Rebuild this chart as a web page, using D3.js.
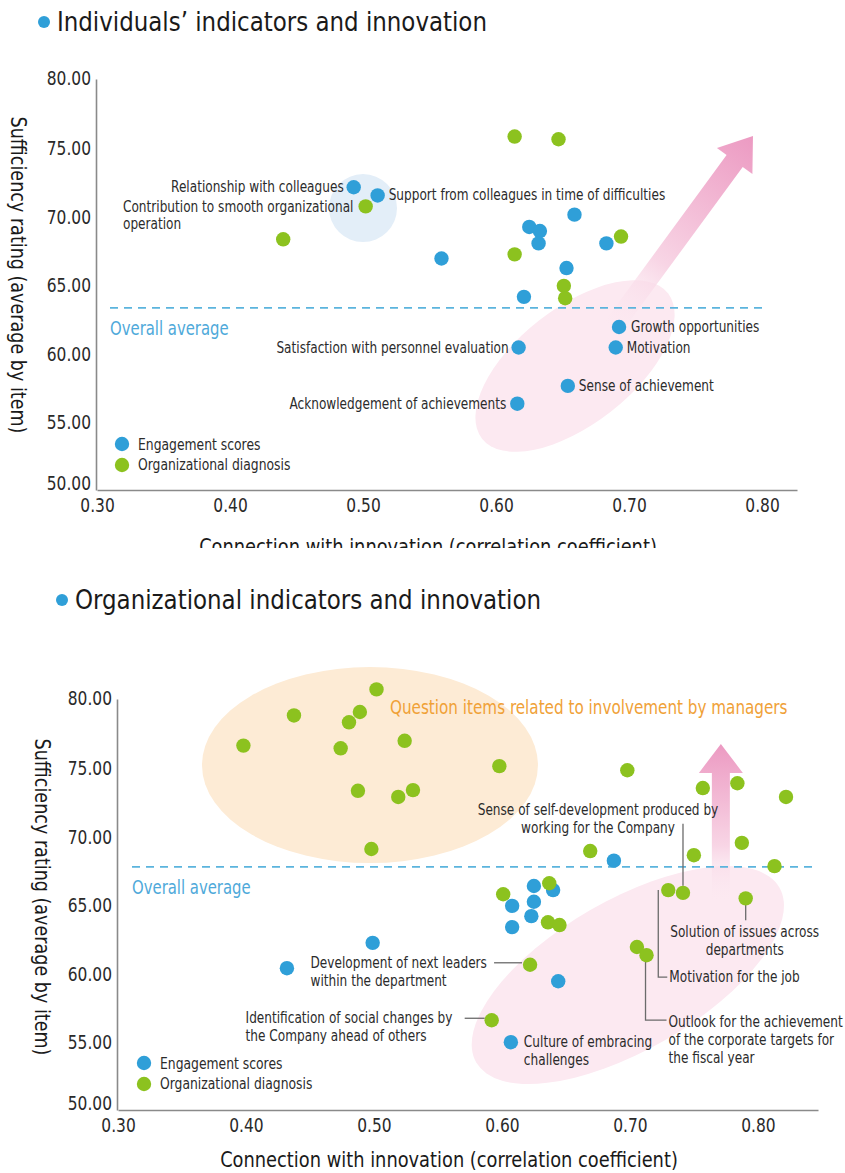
<!DOCTYPE html>
<html>
<head>
<meta charset="utf-8">
<script src="https://cdn.jsdelivr.net/npm/d3@7"></script>
<style>
  html, body { margin: 0; padding: 0; background: #fff; }
  svg { display: block; }
  text { font-family: 'Liberation Sans Narrow', 'DejaVu Sans Condensed', 'Arial Narrow', sans-serif; }
</style>
</head>
<body>
<svg id="chart" width="845" height="1173"></svg>
<script>
// ---------------- data ----------------
const xTicks = [0.3, 0.4, 0.5, 0.6, 0.7, 0.8];
const yTicks = [50, 55, 60, 65, 70, 75, 80];
const seriesNames = ["Engagement scores", "Organizational diagnosis"];

// Individuals' indicators: [correlation, sufficiency rating]
const indivEngagement = [
  [0.493, 72.1], [0.511, 71.5], [0.659, 70.1], [0.625, 69.2], [0.633, 68.9],
  [0.632, 68.0], [0.683, 68.0], [0.559, 66.9], [0.653, 66.2], [0.621, 64.1],
  [0.6925, 61.9], [0.617, 60.4], [0.690, 60.4], [0.654, 57.6], [0.616, 56.3]
];
const indivDiagnosis = [
  [0.502, 70.7], [0.440, 68.3], [0.614, 75.8], [0.647, 75.6],
  [0.694, 68.5], [0.614, 67.2], [0.651, 64.9], [0.652, 64.0]
];
const indivAverage = 63.3;
const indivLabels = [
  { series: 0, index: 0, lines: ["Relationship with colleagues"] },
  { series: 0, index: 1, lines: ["Support from colleagues in time of difficulties"] },
  { series: 1, index: 0, lines: ["Contribution to smooth organizational", "operation"] },
  { series: 0, index: 10, lines: ["Growth opportunities"] },
  { series: 0, index: 11, lines: ["Satisfaction with personnel evaluation"] },
  { series: 0, index: 12, lines: ["Motivation"] },
  { series: 0, index: 13, lines: ["Sense of achievement"] },
  { series: 0, index: 14, lines: ["Acknowledgement of achievements"] }
];

// Organizational indicators: [correlation, sufficiency rating]
const orgEngagement = [
  [0.6875, 68.2], [0.625, 66.35], [0.640, 66.05], [0.625, 65.2], [0.608, 64.9],
  [0.623, 64.15], [0.608, 63.35], [0.499, 62.2], [0.432, 60.35], [0.644, 59.4],
  [0.607, 54.95]
];
const orgDiagnosis = [
  [0.502, 80.7], [0.4375, 78.8], [0.489, 79.05], [0.4805, 78.3], [0.398, 76.6],
  [0.474, 76.4], [0.524, 76.95], [0.4875, 73.3], [0.519, 72.85], [0.5305, 73.35],
  [0.498, 69.05], [0.598, 75.1], [0.698, 74.8], [0.757, 73.5], [0.784, 73.85],
  [0.822, 72.85], [0.7875, 69.5], [0.750, 68.6], [0.669, 68.9], [0.813, 67.8],
  [0.730, 66.05], [0.7415, 65.85], [0.7905, 65.45], [0.601, 65.75], [0.637, 66.55],
  [0.636, 63.7], [0.645, 63.5], [0.7055, 61.9], [0.713, 61.3], [0.622, 60.6],
  [0.592, 56.55]
];
const orgAverage = 67.75;
const orgLabels = [
  { series: 1, index: 21, lines: ["Sense of self-development produced by", "working for the Company"] },
  { series: 1, index: 20, lines: ["Motivation for the job"] },
  { series: 1, index: 28, lines: ["Outlook for the achievement", "of the corporate targets for", "the fiscal year"] },
  { series: 1, index: 22, lines: ["Solution of issues across", "departments"] },
  { series: 1, index: 29, lines: ["Development of next leaders", "within the department"] },
  { series: 1, index: 30, lines: ["Identification of social changes by", "the Company ahead of others"] },
  { series: 0, index: 10, lines: ["Culture of embracing", "challenges"] }
];
const managersNote = "Question items related to involvement by managers";

// ---------------- styling / layout ----------------
const BLUE = "#2f9fd8", GREEN = "#8cc21f";
const seriesColors = [BLUE, GREEN];
const LABEL_SQUEEZE = 0.87;   // condensed lettering for annotations
const svg = d3.select("#chart");
const defs = svg.append("defs");

// Multi-line text, horizontally condensed by `sx`. anchor: start | middle | end | block
// ("block" = lines left-aligned, first line ending at x).
function condensedText(parent, o) {
  const sx = o.sx || LABEL_SQUEEZE;
  const g = parent.append("g");
  const t = g.append("text").attr("font-size", o.size).attr("fill", o.fill || "#2b2b2b")
    .attr("text-anchor", o.anchor === "block" ? "start" : o.anchor);
  const spans = o.lines.map((ln, j) => t.append("tspan").attr("x", 0)
    .attr("y", o.y + j * (o.lh || 18)).text(ln));
  let x0 = o.x;
  if (o.anchor === "block") x0 = o.x - spans[0].node().getComputedTextLength() * sx;
  g.attr("transform", `translate(${x0},0) scale(${sx},1)`);
  return g;
}

function arrowGradient(id, p0, p1) {
  const g = defs.append("linearGradient").attr("id", id)
    .attr("gradientUnits", "userSpaceOnUse")
    .attr("x1", p0[0]).attr("y1", p0[1]).attr("x2", p1[0]).attr("y2", p1[1]);
  g.append("stop").attr("offset", 0).attr("stop-color", "#fbe6ef").attr("stop-opacity", 0.0);
  g.append("stop").attr("offset", 0.35).attr("stop-color", "#f8d5e5");
  g.append("stop").attr("offset", 1).attr("stop-color", "#ec9ac2");
}

function arrowPath(tail, tip, shaftW, headW, headL) {
  const dx = tip[0] - tail[0], dy = tip[1] - tail[1];
  const len = Math.hypot(dx, dy);
  const u = [dx / len, dy / len], n = [-u[1], u[0]];
  const b = [tip[0] - u[0] * headL, tip[1] - u[1] * headL];
  const pt = (p, k) => [p[0] + n[0] * k, p[1] + n[1] * k];
  const pts = [pt(tail, shaftW / 2), pt(b, shaftW / 2), pt(b, headW / 2), tip,
               pt(b, -headW / 2), pt(b, -shaftW / 2), pt(tail, -shaftW / 2)];
  return "M" + pts.map(p => p.join(",")).join("L") + "Z";
}

function drawTitle(x, y, text) {
  svg.append("circle").attr("cx", x).attr("cy", y - 9).attr("r", 6).attr("fill", BLUE);
  condensedText(svg, { x: x + 13, y: y, lines: [text], anchor: "start", size: 27, sx: 0.945, fill: "#1a1a1a" });
}

function drawPanel(cfg) {
  const g = svg.append("g");
  const x = cfg.x, y = cfg.y;
  const data = [cfg.engagement, cfg.diagnosis];
  const pos = (s, i) => [x(data[s][i][0]), y(data[s][i][1])];

  // background highlight shapes
  cfg.backdrop(g, x, y);

  // overall average
  g.append("line")
    .attr("x1", cfg.avgX0).attr("x2", cfg.avgX1)
    .attr("y1", y(cfg.average)).attr("y2", y(cfg.average))
    .attr("stroke", "#5bb4dd").attr("stroke-width", 1.8).attr("stroke-dasharray", "8,6");
  condensedText(g, { x: cfg.avgX0, y: y(cfg.average) + 27, lines: ["Overall average"],
    anchor: "start", size: 19, fill: "#4ea9da" });

  // axes
  const TICK_SX = 0.86;
  const yAxis = d3.axisLeft(y).tickValues(yTicks).tickFormat(d3.format(".2f")).tickSize(0).tickPadding(5);
  const xAxis = d3.axisBottom(x).tickValues(xTicks).tickFormat(d3.format(".2f")).tickSize(0).tickPadding(8);
  const ya = g.append("g").attr("transform", `translate(${x.range()[0] - 1},0)`).call(yAxis);
  const xa = g.append("g").attr("transform", `translate(0,${y.range()[0]})`).call(xAxis);
  [ya, xa].forEach(a => {
    a.select(".domain").attr("stroke", "#8a8a8a").attr("stroke-width", 1.6);
    a.selectAll("text").attr("font-size", 20).attr("fill", "#2a2a2a")
      .attr("transform", `scale(${TICK_SX},1)`);
  });
  ya.selectAll(".tick text").attr("x", -5 / TICK_SX)
    .attr("dy", d => d === 50 ? "-0.05em" : d === 80 ? "0.25em" : "0.35em");

  // axis titles
  g.append("text")
    .attr("transform", `translate(${cfg.yTitleX},${cfg.yTitleY}) rotate(90) scale(0.93,1)`)
    .attr("text-anchor", "middle").attr("dy", "0.35em")
    .attr("font-size", 21).attr("fill", "#1a1a1a")
    .text("Sufficiency rating (average by item)");
  const xt = g.append("g");
  if (cfg.clipBottom) {
    defs.append("clipPath").attr("id", "xtclip").append("rect")
      .attr("x", 0).attr("y", 0).attr("width", 845).attr("height", cfg.clipBottom);
    xt.attr("clip-path", "url(#xtclip)");
  }
  condensedText(xt, { x: cfg.xTitleX, y: cfg.xTitleY, lines: ["Connection with innovation (correlation coefficient)"],
    anchor: "middle", size: 21, sx: 0.944, fill: "#1a1a1a" });

  // leaders + labels
  const lab = g.append("g");
  cfg.labels.forEach((L, k) => {
    const lay = cfg.layout[k];
    const p = pos(L.series, L.index);
    if (lay.leader) {
      lab.append("path")
        .attr("d", d3.line()(lay.leader.map(d => [p[0] + d[0], p[1] + d[1]])))
        .attr("fill", "none").attr("stroke", "#6b6b6b").attr("stroke-width", 1.3);
    }
    condensedText(lab, { x: p[0] + lay.dx, y: p[1] + lay.dy, lines: L.lines,
      anchor: lay.anchor, size: 15.5, lh: lay.lh || 18 });
  });

  // points: engagement first, diagnosis on top
  data.forEach((arr, s) => {
    g.append("g").selectAll("circle").data(arr).join("circle")
      .attr("cx", d => x(d[0])).attr("cy", d => y(d[1])).attr("r", 7.2)
      .attr("fill", seriesColors[s]);
  });

  // legend
  const lg = g.append("g").attr("transform", `translate(${cfg.legendX},${cfg.legendY})`);
  seriesNames.forEach((name, i) => {
    lg.append("circle").attr("cx", 0).attr("cy", i * 21).attr("r", 7.2).attr("fill", seriesColors[i]);
    condensedText(lg, { x: 16, y: i * 21 + 5.5, lines: [name], anchor: "start", size: 16, sx: 0.86 });
  });
  return g;
}

// ---------------- panel 1: individuals ----------------
drawTitle(44, 31, "Individuals\u2019 indicators and innovation");

const x1 = d3.scaleLinear().domain([0.3, 0.8263]).range([97, 797]);
const y1 = d3.scaleLinear().domain([50, 80]).range([490, 79]);

drawPanel({
  x: x1, y: y1, engagement: indivEngagement, diagnosis: indivDiagnosis,
  average: indivAverage, avgX0: 110, avgX1: 767,
  yTitleX: 18, yTitleY: 275, xTitleX: 428, xTitleY: 554, clipBottom: 548,
  legendX: 122, legendY: 444,
  labels: indivLabels,
  layout: [
    { anchor: "end", dx: -10, dy: 5 },
    { anchor: "start", dx: 11, dy: 5 },
    { anchor: "block", dx: -12, dy: 6, lh: 17 },
    { anchor: "start", dx: 12, dy: 5 },
    { anchor: "end", dx: -10, dy: 5 },
    { anchor: "start", dx: 11, dy: 5 },
    { anchor: "start", dx: 11, dy: 5 },
    { anchor: "end", dx: -11, dy: 5 }
  ],
  backdrop: (g, x, y) => {
    // growth zone with rising arrow
    const c = [x(0.6594), y(59.05)];
    g.append("ellipse").attr("cx", 0).attr("cy", 0).attr("rx", 118).attr("ry", 58)
      .attr("transform", `translate(${c[0]},${c[1]}) rotate(-38)`)
      .attr("fill", "#fce9f1");
    const tail = [x(0.6865), y(61.7)], tip = [x(0.7932), y(75.84)];
    arrowGradient("arrow1", tail, tip);
    g.append("path").attr("d", arrowPath(tail, tip, 20, 44, 31)).attr("fill", "url(#arrow1)");
    // colleague cluster
    g.append("circle").attr("cx", x(0.5)).attr("cy", y(70.58)).attr("r", 34).attr("fill", "#e3eef8");
  }
});

// ---------------- panel 2: organizational ----------------
drawTitle(62, 609, "Organizational indicators and innovation");

const x2 = d3.scaleLinear().domain([0.3, 0.847]).range([118, 818]);
const y2 = d3.scaleLinear().domain([50, 80]).range([1110, 699]);

drawPanel({
  x: x2, y: y2, engagement: orgEngagement, diagnosis: orgDiagnosis,
  average: orgAverage, avgX0: 132, avgX1: 817,
  yTitleX: 42, yTitleY: 897, xTitleX: 449, xTitleY: 1167,
  legendX: 144, legendY: 1063,
  labels: orgLabels,
  layout: [
    { anchor: "middle", dx: -85, dy: -78, leader: [[0, -69], [0, -7]] },
    { anchor: "start", dx: 1, dy: 92, leader: [[-10, 0], [-10, 87], [-1, 87]] },
    { anchor: "start", dx: 22, dy: 72, leader: [[-1, 0], [-1, 65], [20, 65]] },
    { anchor: "middle", dx: -1, dy: 39, leader: [[0, 0], [0, 22]] },
    { anchor: "block", dx: -43, dy: 3, leader: [[-36, -2], [-8, -2]] },
    { anchor: "block", dx: -39, dy: 3, leader: [[-27, -2], [-7, -2]] },
    { anchor: "start", dx: 13, dy: 5 }
  ],
  backdrop: (g, x, y) => {
    g.append("ellipse").attr("cx", x(0.4969)).attr("cy", y(75.18)).attr("rx", 168).attr("ry", 98)
      .attr("fill", "#fdebd5");
    const c = [x(0.6984), y(59.85)];
    g.append("ellipse").attr("cx", 0).attr("cy", 0).attr("rx", 175).attr("ry", 75)
      .attr("transform", `translate(${c[0]},${c[1]}) rotate(-30)`)
      .attr("fill", "#fce9f1");
    const tail = [x(0.7711), y(65.3)], tip = [x(0.7711), y(76.72)];
    arrowGradient("arrow2", tail, tip);
    g.append("path").attr("d", arrowPath(tail, tip, 18, 44, 29)).attr("fill", "url(#arrow2)");
    condensedText(g, { x: 390, y: 714, lines: [managersNote], anchor: "start", size: 19, sx: 0.89, fill: "#f0a137" });
  }
});
</script>
</body>
</html>
